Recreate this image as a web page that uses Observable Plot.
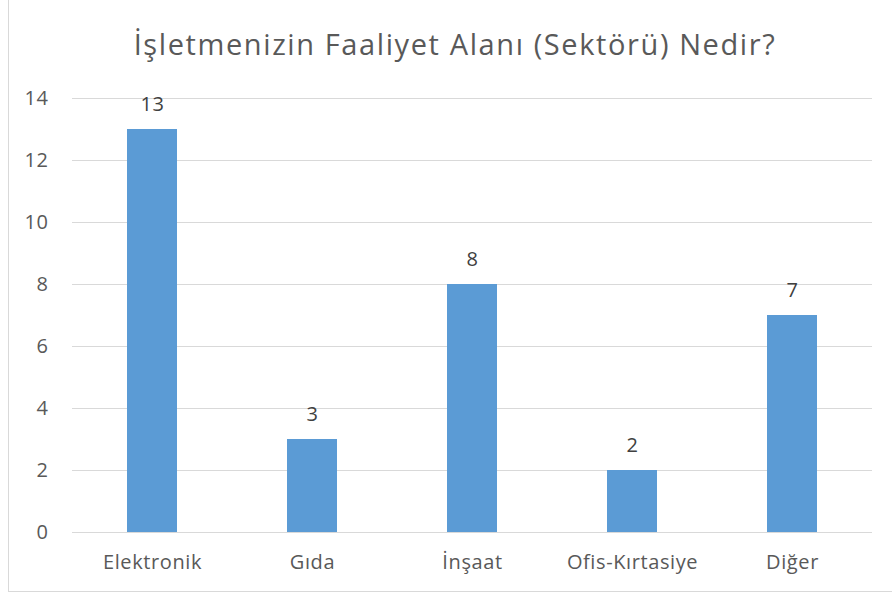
<!DOCTYPE html>
<html>
<head>
<meta charset="utf-8">
<script src="https://cdn.jsdelivr.net/npm/d3@7"></script>
<script src="https://cdn.jsdelivr.net/npm/@observablehq/plot@0.6"></script>
<style>
  html, body { margin: 0; padding: 0; background: #fff; }
  body { width: 892px; height: 599px; position: relative; overflow: hidden; font-family: "Open Sans", sans-serif; }
  #frame { position: absolute; left: 8px; top: -2px; width: 900px; height: 594px; border: 1px solid #D9D9D9; box-sizing: border-box; }
  #title { position: absolute; left: 0; top: 24px; width: 910px; text-align: center; font-size: 29px; line-height: 40px; letter-spacing: 1.6px; color: #595959; font-family: "Open Sans", sans-serif; white-space: nowrap; }
  #chart { position: absolute; left: 0; top: 70px; }
</style>
</head>
<body>
<div id="frame"></div>
<div id="title">İşletmenizin Faaliyet Alanı (Sektörü) Nedir?</div>
<div id="chart"></div>
<script>
const categories = ["Elektronik", "Gıda", "İnşaat", "Ofis-Kırtasiye", "Diğer"];
const values = [13, 3, 8, 2, 7];
const yTicks = [0, 2, 4, 6, 8, 10, 12, 14];

const data = categories.map((c, i) => ({category: c, value: values[i]}));

const chart = Plot.plot({
  width: 892,
  height: 519,
  marginLeft: 72,
  marginRight: 20,
  marginTop: 28,
  marginBottom: 57,
  style: {fontFamily: "'Open Sans', sans-serif", fontSize: "20px", letterSpacing: "0.6px", color: "#595959", background: "transparent", overflow: "visible"},
  x: {domain: categories, paddingInner: 0.6875, paddingOuter: 0.34375, label: null},
  y: {domain: [0, 14], label: null},
  marks: [
    Plot.ruleY(yTicks, {stroke: "#D9D9D9", strokeWidth: 1}),
    Plot.barY(data, {x: "category", y: "value", fill: "#5B9BD5"}),
    Plot.text(data, {x: "category", y: "value", text: d => String(d.value), dy: -25, fill: "#404040", fontSize: 20}),
    Plot.axisY({ticks: yTicks, tickSize: 0, tickPadding: 24, fill: "#595959", fontSize: 20, label: null}),
    Plot.axisX({tickSize: 0, tickPadding: 22.5, fill: "#595959", fontSize: 20, label: null})
  ]
});
document.getElementById("chart").appendChild(chart);
</script>
</body>
</html>
